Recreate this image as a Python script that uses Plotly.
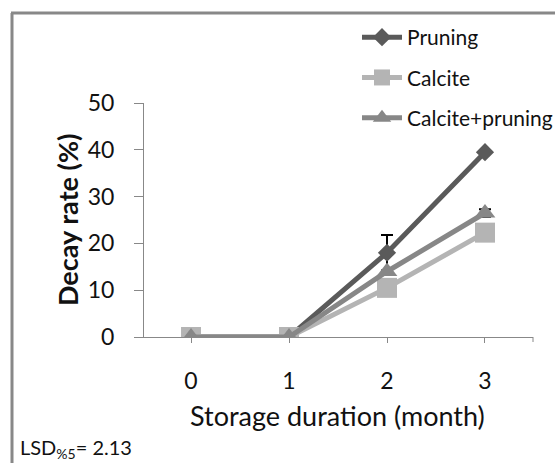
import plotly.graph_objects as go

months = [0, 1, 2, 3]
pruning = [0, 0, 18, 39.5]
calcite = [0, 0, 10.5, 22.3]
calcite_pruning = [0, 0, 14, 26.5]
pruning_err = [0, 0, 3.8, 0]
cp_err = [0, 0, 0, 0.8]

FONT = "Lato"
fig = go.Figure()
fig.add_trace(go.Scatter(x=months, y=pruning, name="Pruning", mode="lines+markers",
                         line=dict(color="#5a5a5a", width=5),
                         marker=dict(symbol="diamond", size=14, color="#5a5a5a"),
                         error_y=dict(type="data", array=pruning_err, color="black", thickness=2, width=6, visible=True),
                         legendgroup="a"))
fig.add_trace(go.Scatter(x=months, y=calcite, name="Calcite", mode="lines+markers",
                         line=dict(color="#b4b4b4", width=5),
                         marker=dict(symbol="square", size=20, color="#b4b4b4"),
                         legendgroup="b"))
fig.add_trace(go.Scatter(x=months, y=calcite_pruning, name="Calcite+pruning", mode="lines+markers",
                         line=dict(color="#878787", width=5),
                         marker=dict(symbol="triangle-up", size=18, color="#878787"),
                         error_y=dict(type="data", array=cp_err, color="black", thickness=2, width=6, visible=True),
                         legendgroup="c"))

W, H = 555, 463
L, R, T, B = 144, 22, 103, 126
pw, ph = W - L - R, H - T - B
def px(x): return (x - L) / pw
def py(y): return (H - B - y) / ph

fig.update_layout(
    width=W, height=H, margin=dict(l=L, r=R, t=T, b=B, autoexpand=False),
    paper_bgcolor="white", plot_bgcolor="white",
    font=dict(family=FONT, color="#111"),
    showlegend=True,
    legend=dict(x=px(357), y=py(17), xanchor="left", yanchor="top",
                font=dict(size=21, family=FONT, color="#111"),
                tracegroupgap=10, bgcolor="rgba(0,0,0,0)", itemwidth=40),
    xaxis=dict(range=[-0.48, 3.49], tickvals=[0, 1, 2, 3],
               ticktext=["0", "1", "2", "3"],
               showline=True, linecolor="#888", linewidth=1, showgrid=False, zeroline=False,
               ticks="outside", ticklen=5, tickcolor="#888",
               tickfont=dict(size=23, family=FONT, color="#111"), ticklabelstandoff=18),
    yaxis=dict(range=[0, 50], tickvals=[0, 10, 20, 30, 40, 50],
               showline=True, linecolor="#888", linewidth=1, showgrid=False, zeroline=False,
               ticks="outside", ticklen=9, tickcolor="#888",
               tickfont=dict(size=23, family=FONT, color="#111"), ticklabelstandoff=15),
)

# right end tick of the category axis
fig.add_shape(type="line", xref="paper", yref="paper", x0=1, x1=1, y0=0, y1=-5 / ph,
              line=dict(color="#888", width=1))
fig.add_shape(type="line", xref="paper", yref="paper", x0=px(12), x1=px(12), y0=py(13), y1=py(470),
              line=dict(color="#888", width=3))
fig.add_shape(type="line", xref="paper", yref="paper", x0=px(11), x1=px(560), y0=py(13), y1=py(13),
              line=dict(color="#888", width=3))
fig.add_annotation(xref="paper", yref="paper", x=px(67), y=py(220), xanchor="center", yanchor="middle",
                   text="<b>Decay rate (%)</b>", textangle=-90, showarrow=False,
                   font=dict(size=27, family=FONT, color="#111"))
fig.add_annotation(xref="paper", yref="paper", x=px(337), y=py(415), xanchor="center", yanchor="middle",
                   text="Storage duration (month)", showarrow=False,
                   font=dict(size=27, family=FONT, color="#111"))
fig.add_annotation(xref="paper", yref="paper", x=px(18), y=py(448), xanchor="left", yanchor="middle",
                   text="LSD<sub>%5</sub>= 2.13", showarrow=False,
                   font=dict(size=20, family=FONT, color="#111"))

fig.write_html("out.html", post_script="document.body.style.margin='0';",
               config={"displayModeBar": False})
